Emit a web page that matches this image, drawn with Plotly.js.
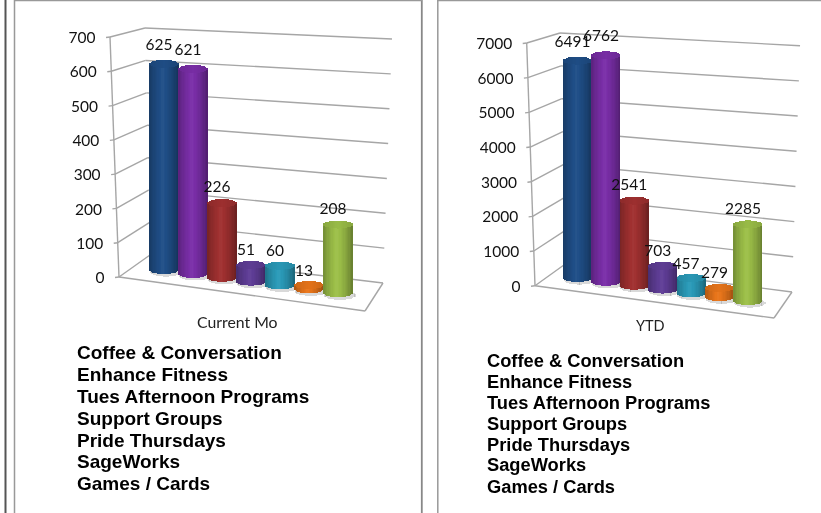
<!DOCTYPE html>
<html><head><meta charset="utf-8">
<script src="https://cdn.plot.ly/plotly-3.0.1.min.js"></script>
<style>html,body{margin:0;padding:0;background:#fff}#plot{width:821px;height:513px;filter:blur(0.35px)}</style>
</head><body><div id="plot"></div>
<script>
// ---- data ----
const categories = ["Coffee & Conversation","Enhance Fitness","Tues Afternoon Programs","Support Groups","Pride Thursdays","SageWorks","Games / Cards"];
const currentMo = [625,621,226,51,60,13,208];
const ytd = [6491,6762,2541,703,457,279,2285];
const currentTicks = [0,100,200,300,400,500,600,700];
const ytdTicks = [0,1000,2000,3000,4000,5000,6000,7000];
const barColors = ["#1F4E87","#7A2EA8","#A03030","#5F3D96","#2A9AB8","#E8751A","#9CBF48"];

// ---- geometry of each faked-3D panel (pixels on the page) ----
const panels = [
 {suffix:"",  title:"Current Mo", titleSize:15.8, values:currentMo, ticks:currentTicks, dom:[0,0.5], pxL:0, pxR:410.5,
  cx0:164, dx:29, y0:270, scale:0.33, slope:0.133, w:29,
  front:[[110,37],[119,277]], back:[[145,28],[150,255]], right:[[392,39],[383,283]], floorFront:[365,311],
  titleAt:[237,321], legendX:75.5, legendY:[352,374,396,418,440,461,483], legendSize:19},
 {suffix:"2", title:"YTD", titleSize:14.5, values:ytd, ticks:ytdTicks, dom:[0.5,1], pxL:410.5, pxR:821,
  cx0:577.5, dx:28.4, y0:278, scale:0.0335, slope:0.135, w:29,
  front:[[526.7,43],[535,285.7]], back:[[560,33],[566.7,263]], right:[[800,45.7],[792,292]], floorFront:[774,318],
  titleAt:[650,325], legendX:486, legendY:[360,381,402,423,444,464,486], legendSize:18.3}
];
const STRIPS = 22;
function shade(hex,f){
  const n=parseInt(hex.slice(1),16);
  const c=[n>>16,(n>>8)&255,n&255].map(v=>Math.max(0,Math.min(255,Math.round(f>1? v+(255-v)*(f-1):v*f))));
  return `rgb(${c[0]},${c[1]},${c[2]})`;
}
const lerp=(a,b,t)=>[a[0]+(b[0]-a[0])*t,a[1]+(b[1]-a[1])*t];

const traces=[], shapes=[], annotations=[], layout={};
panels.forEach(p=>{
  const xName="x"+p.suffix, yName="y"+p.suffix;
  const X=px=>(px-p.cx0)/p.dx, Y=py=>(p.y0-py)/p.scale;
  layout["xaxis"+p.suffix]={domain:p.dom,range:[X(p.pxL),X(p.pxR)],visible:false,fixedrange:true,anchor:yName};
  layout["yaxis"+p.suffix]={domain:[0,1],range:[Y(513),Y(0)],visible:false,fixedrange:true,anchor:xName};
  const seg=(a,b,w)=>shapes.push({type:"line",layer:"below",xref:xName,yref:yName,x0:X(a[0]),y0:Y(a[1]),x1:X(b[0]),y1:Y(b[1]),line:{color:"#a6a6a6",width:w||1.4}});
  const top=p.ticks[p.ticks.length-1];
  // walls and floor
  seg(p.front[0],p.front[1]);
  p.ticks.forEach(v=>{
    const t=1-v/top, f=lerp(p.front[0],p.front[1],t), b=lerp(p.back[0],p.back[1],t), r=lerp(p.right[0],p.right[1],t);
    seg([f[0]-4,f[1]+0.5],f); seg(f,b); seg(b,r);
  });
  seg(p.front[1],p.floorFront); seg(p.floorFront,p.right[1]);
  // tick labels follow the slanted front edge
  traces.push({type:"scatter",mode:"text",xaxis:xName,yaxis:yName,hoverinfo:"skip",showlegend:false,
    x:p.ticks.map(v=>X(lerp(p.front[0],p.front[1],1-v/top)[0]-14.5)),
    y:p.ticks.map(v=>Y(lerp(p.front[0],p.front[1],1-v/top)[1]+2.2)),
    text:p.ticks.map(String),textposition:"middle left",textfont:{family:"Lato",size:15.5,color:"#111"}});
  // cylinders are built from narrow bars
  const R=p.w/2/p.dx, ry=4/p.scale, floorV=i=>-p.slope*p.dx*i/p.scale;
  const sw=2*R/STRIPS;
  // soft floor shadow
  const sh={x:[],base:[],y:[],width:[]};
  p.values.forEach((v,i)=>{
    for(let k=0;k<STRIPS;k++){
      const u=-1+(k+0.5)*2/STRIPS, s=Math.sqrt(1-u*u);
      sh.x.push(i+u*R*1.1+2/p.dx); sh.base.push(floorV(i)-2/p.scale-ry*1.15*s); sh.y.push(2*ry*1.15*s); sh.width.push(sw*1.15);
    }
  });
  traces.push({type:"bar",xaxis:xName,yaxis:yName,hoverinfo:"skip",showlegend:false,...sh,marker:{color:"rgba(120,120,120,0.28)",line:{width:0}}});
  p.values.forEach((v,i)=>{
    const t={x:[],base:[],y:[],width:[],color:[]};
    for(let k=0;k<STRIPS;k++){           // body
      const u=-1+(k+0.5)*2/STRIPS, s=Math.sqrt(1-u*u);
      const d=Math.min(1,Math.abs(u+0.08));
      const f=0.68+0.36*Math.pow(1-d,0.7);
      t.x.push(i+u*R); t.base.push(floorV(i)-ry*s); t.y.push(v); t.width.push(sw*1.1); t.color.push(shade(barColors[i],f));
    }
    for(let k=0;k<STRIPS;k++){           // top cap
      const u=-1+(k+0.5)*2/STRIPS, s=Math.sqrt(1-u*u);
      const f=0.98-0.1*Math.abs(u);
      t.x.push(i+u*R); t.base.push(floorV(i)+v-ry*s); t.y.push(2*ry*s); t.width.push(sw*1.1); t.color.push(shade(barColors[i],f));
    }
    traces.push({type:"bar",name:categories[i],xaxis:xName,yaxis:yName,hoverinfo:"skip",showlegend:false,
      x:t.x,base:t.base,y:t.y,width:t.width,marker:{color:t.color,line:{width:0}}});
  });
  // value labels
  const maxV=Math.max(...p.values);
  traces.push({type:"scatter",mode:"text",xaxis:xName,yaxis:yName,hoverinfo:"skip",showlegend:false,
    x:p.values.map((v,i)=>i-5/p.dx),
    y:p.values.map((v,i)=>floorV(i)+v+(13+5*v/maxV)/p.scale),
    text:p.values.map(String),textposition:"middle center",textfont:{family:"Lato",size:15.5,color:"#111"}});
  // axis caption
  annotations.push({xref:xName,yref:yName,x:X(p.titleAt[0]),y:Y(p.titleAt[1]),text:p.title,showarrow:false,font:{family:"Lato",size:p.titleSize,color:"#222"}});
  // category list
  categories.forEach((c,i)=>annotations.push({xref:xName,yref:yName,x:X(p.legendX),y:Y(p.legendY[i]),text:c,showarrow:false,xanchor:"left",yanchor:"middle",borderpad:0,
    font:{family:"Liberation Sans",size:p.legendSize,color:"#000",weight:700}}));
});
// panel frames
const frame=(x0,y0,x1,y1,c,w)=>shapes.push({type:"line",layer:"above",xref:"paper",yref:"paper",x0:x0/821,x1:x1/821,y0:1-y0/513,y1:1-y1/513,line:{color:c,width:w}});
frame(5.5,0,5.5,513,"#555",2);
frame(14.5,0,14.5,513,"#999",1.5);
frame(421.8,0,421.8,513,"#888",1.8);
frame(437.8,0,437.8,513,"#999",1.5);
frame(14,0.5,422,0.5,"#999",1.5);
frame(437,0.5,821,0.5,"#999",1.5);

Object.assign(layout,{width:821,height:513,margin:{l:0,r:0,t:0,b:0,pad:0},autosize:false,showlegend:false,barmode:"overlay",
  paper_bgcolor:"#fff",plot_bgcolor:"rgba(0,0,0,0)",shapes,annotations,bargap:0});
Plotly.newPlot("plot",traces,layout,{displayModeBar:false,staticPlot:true});
</script></body></html>
